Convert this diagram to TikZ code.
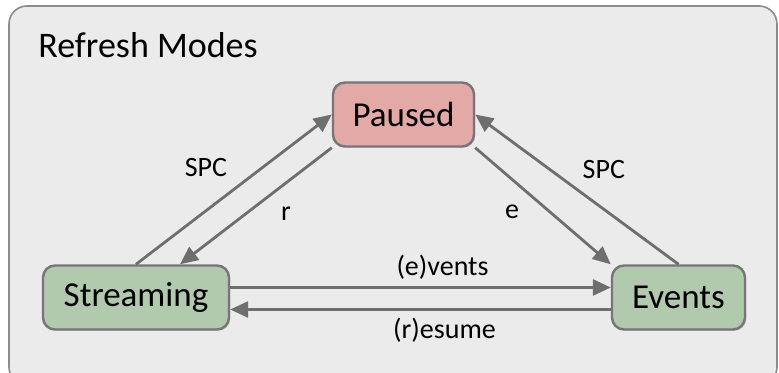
\documentclass[tikz,border=0pt]{standalone}
\usepackage{fontspec}
\setmainfont{Carlito}
\usetikzlibrary{arrows.meta, positioning, calc, shadows}
\definecolor{panelfill}{HTML}{EBEBEB}
\definecolor{panelline}{HTML}{8C8C8C}
\definecolor{modeline}{HTML}{767676}
\definecolor{pausedred}{HTML}{E2A9A7}
\definecolor{runninggreen}{HTML}{B1C9AC}
\definecolor{transgray}{HTML}{6E6E6E}

\begin{document}
\begin{tikzpicture}[x=0.5pt, y=0.5pt,
    mode/.style={draw=modeline, line width=1.2pt, rounded corners=6pt,
                 minimum height=32pt, inner sep=2pt,
                 font=\fontsize{17.5}{21}\selectfont,
                 drop shadow={shadow xshift=0.7pt, shadow yshift=-0.7pt, opacity=0.25}},
    trans/.style={-{Triangle[length=9pt, width=8pt]}, line width=1.4pt, transgray},
    lbl/.style={font=\fontsize{14}{17}\selectfont, text=black},
  ]
    \useasboundingbox (0,0) rectangle (779,373);

    % panel
    \draw[panelline, line width=0.8pt, fill=panelfill, rounded corners=9pt]
      (9,367) rectangle (777,-12);
    \node[anchor=base west, inner sep=0pt, font=\fontsize{18}{22}\selectfont]
      (title) at (38,315) {Refresh Modes};

    % modes
    \node[mode, fill=pausedred,    minimum width=70.5pt] (P) at (403.5,258.5) {Paused};
    \node[mode, fill=runninggreen, minimum width=93pt]   (S) at (136,75.5)    {Streaming};
    \node[mode, fill=runninggreen, minimum width=66.5pt] (E) at (678.5,75.5)  {Events};

    % transitions
    \draw[trans] (S.north) -- node[lbl, xshift=-14pt, yshift=11pt] {SPC} (P.west);
    \draw[trans] (P.south west) -- node[lbl, xshift=15pt, yshift=-4pt] {r} ([xshift=22pt]S.north);
    \draw[trans] (P.south east) -- node[lbl, xshift=-15.5pt, yshift=-3pt] {e} (E.north west);
    \draw[trans] (E.north) -- node[lbl, xshift=13.5pt, yshift=10pt] {SPC} (P.east);
    \draw[trans] ([yshift=5pt]S.east) -- node[lbl, above, xshift=11pt] {(e)vents} ([yshift=5pt]E.west);
    \draw[trans] ([yshift=-6pt]E.west) -- node[lbl, below, xshift=12pt] {(r)esume} ([yshift=-6pt]S.east);
  \end{tikzpicture}
\end{document}
